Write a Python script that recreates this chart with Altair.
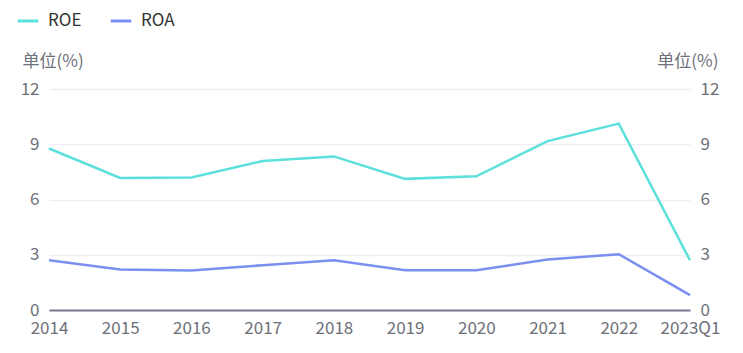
import altair as alt
import pandas as pd

periods = ["2014", "2015", "2016", "2017", "2018", "2019", "2020", "2021", "2022", "2023Q1"]
roe = [8.77, 7.17, 7.19, 8.09, 8.34, 7.12, 7.26, 9.17, 10.12, 2.70]
roa = [2.70, 2.20, 2.15, 2.43, 2.70, 2.16, 2.16, 2.74, 3.03, 0.81]
series = ["ROE", "ROA"]
colors = ["#5ce0dc", "#7b8ff0"]
y_ticks = [0, 3, 6, 9, 12]

df = pd.DataFrame({"period": periods, "ROE": roe, "ROA": roa})
long = df.melt("period", var_name="series", value_name="value")

FONT = "Noto Sans CJK SC"
LABEL = "#6e7079"

x = alt.X("period:N", sort=periods, scale=alt.Scale(type="point", padding=0),
          axis=alt.Axis(title=None, labelAngle=0, labelFontSize=17, labelColor=LABEL,
                        labelFont=FONT, ticks=False, domainColor="#7a7690", domainWidth=2,
                        labelPadding=10, grid=False))

color = alt.Color("series:N", scale=alt.Scale(domain=series, range=colors),
                  legend=alt.Legend(title=None, orient="none", legendX=-33, legendY=-80,
                                    direction="horizontal", symbolType="stroke",
                                    symbolStrokeWidth=3, symbolSize=420, labelFontSize=17,
                                    labelFont=FONT, labelColor="#333333", columnPadding=22,
                                    labelOffset=8))

yscale = alt.Scale(domain=[0, 12], nice=False)

left = alt.Chart(long).mark_line(strokeWidth=2.5).encode(
    x=x,
    y=alt.Y("value:Q", scale=yscale,
            axis=alt.Axis(orient="left", values=y_ticks, title="单位(%)", titleAngle=0,
                          titleX=-27, titleY=-19, titleAlign="left", titleBaseline="bottom",
                          titleFont=FONT, titleFontSize=17, titleFontWeight="normal",
                          titleColor=LABEL, labelFontSize=17, labelColor=LABEL, labelFont=FONT,
                          ticks=False, domain=False, labelPadding=10, gridColor="#eeeef8",
                          gridWidth=1.5)),
    color=color,
    order=alt.Order("period:N"),
)

right = alt.Chart(long).mark_line(strokeWidth=0, opacity=0).encode(
    x=x,
    y=alt.Y("value:Q", scale=yscale,
            axis=alt.Axis(orient="right", values=y_ticks, title="单位(%)", titleAngle=0,
                          titleX=28, titleY=-19, titleAlign="right", titleBaseline="bottom",
                          titleFont=FONT, titleFontSize=17, titleFontWeight="normal",
                          titleColor=LABEL, labelFontSize=17, labelColor=LABEL, labelFont=FONT,
                          ticks=False, domain=False, labelPadding=10, grid=False)),
    detail="series:N",
)

chart = alt.layer(left, right).resolve_scale(y="independent").properties(
    width=641, height=221,
    background="white",
    autosize=alt.AutoSizeParams(type="none"),
    padding={"left": 49, "top": 89, "right": 53, "bottom": 43},
).configure_view(strokeWidth=0, stroke="transparent")

chart.save("out.html", embed_options={"renderer": "svg", "actions": False})
